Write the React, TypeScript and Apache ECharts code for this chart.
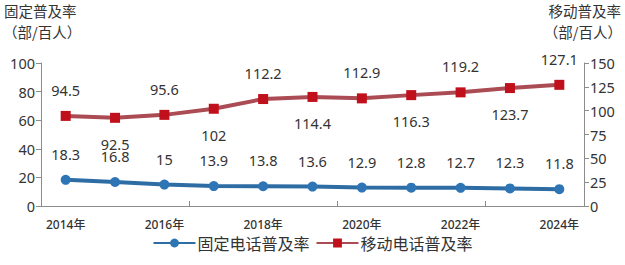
import React, { useEffect, useRef } from "react";
import * as echarts from "echarts";

const years = ["2014年", "2015年", "2016年", "2017年", "2018年", "2019年", "2020年", "2021年", "2022年", "2023年", "2024年"];
const fixedRate = [18.3, 16.8, 15, 13.9, 13.8, 13.6, 12.9, 12.8, 12.7, 12.3, 11.8];
const mobileRate = [94.5, 92.5, 95.6, 102, 112.2, 114.4, 112.9, 116.3, 119.2, 123.7, 127.1];
const fixedName = "固定电话普及率";
const mobileName = "移动电话普及率";

const FONT = "'Noto Sans', 'Noto Sans CJK SC', sans-serif";
const CJK = "'Noto Sans CJK SC', sans-serif";

export default function App() {
  const ref = useRef<HTMLDivElement>(null);
  useEffect(() => {
    if (!ref.current) return;
    const chart = echarts.init(ref.current, undefined, { renderer: "svg" });
    const axisLine = { show: true, lineStyle: { color: "#8c8c8c", width: 1 } };
    chart.setOption({
      animation: false,
      backgroundColor: "#ffffff",
      grid: { left: 41, right: 41, top: 63, bottom: 59, containLabel: false },
      legend: {
        bottom: 9,
        left: "center",
        itemWidth: 42,
        itemHeight: 11,
        itemGap: 6,
        textStyle: { fontSize: 16, lineHeight: 16, color: "#333", fontFamily: CJK, padding: [0, 0, 0, -3] },
        data: [fixedName, mobileName],
      },
      graphic: [
        { type: "text", left: 4, top: 3, style: { text: "固定普及率", fill: "#333", font: `14.5px ${CJK}` } },
        { type: "text", left: 3, top: 24, style: { text: "（部/百人）", fill: "#333", font: `14.5px ${CJK}` } },
        { type: "text", right: 4, top: 3, style: { text: "移动普及率", fill: "#333", font: `14.5px ${CJK}` } },
        { type: "text", right: 3, top: 24, style: { text: "（部/百人）", fill: "#333", font: `14.5px ${CJK}` } },
      ],
      xAxis: {
        type: "category",
        data: years,
        boundaryGap: true,
        axisLine,
        axisTick: { show: true, inside: true, length: 5, interval: 2, lineStyle: { color: "#8c8c8c" } },
        axisLabel: { interval: 1, margin: 12, fontSize: 12, lineHeight: 12, color: "#333", fontFamily: FONT, fontWeight: 500 },
      },
      yAxis: [
        {
          type: "value",
          min: 0,
          max: 100,
          interval: 20,
          axisLine,
          axisTick: { show: true, length: 5, lineStyle: { color: "#8c8c8c" } },
          splitLine: { show: false },
          axisLabel: { fontSize: 14.5, color: "#333", fontFamily: FONT, margin: 6 },
        },
        {
          type: "value",
          min: 0,
          max: 150,
          interval: 25,
          axisLine,
          axisTick: { show: true, length: 5, lineStyle: { color: "#8c8c8c" } },
          splitLine: { show: false },
          axisLabel: { fontSize: 14.5, color: "#333", fontFamily: FONT, margin: 6 },
        },
      ],
      series: [
        {
          name: fixedName,
          type: "line",
          yAxisIndex: 0,
          data: fixedRate,
          symbol: "circle",
          symbolSize: 10,
          lineStyle: { color: "#2e6da4", width: 4 },
          itemStyle: { color: "#2e75b6" },
          label: { show: true, position: "top", distance: 14, fontSize: 14.5, lineHeight: 14, color: "#333", fontFamily: FONT },
        },
        {
          name: mobileName,
          type: "line",
          yAxisIndex: 1,
          data: mobileRate.map((v, i) => ({
            value: v,
            label: { position: i % 2 === 0 ? "top" : "bottom" },
          })),
          symbol: "rect",
          symbolSize: 10,
          lineStyle: { color: "#ab4c55", width: 4 },
          itemStyle: { color: "#c0101c" },
          label: { show: true, distance: 14, fontSize: 14.5, lineHeight: 14, color: "#333", fontFamily: FONT },
        },
      ],
    });
    return () => chart.dispose();
  }, []);
  return <div ref={ref} style={{ width: 625, height: 265, position: "absolute", left: 0, top: 0 }} />;
}
